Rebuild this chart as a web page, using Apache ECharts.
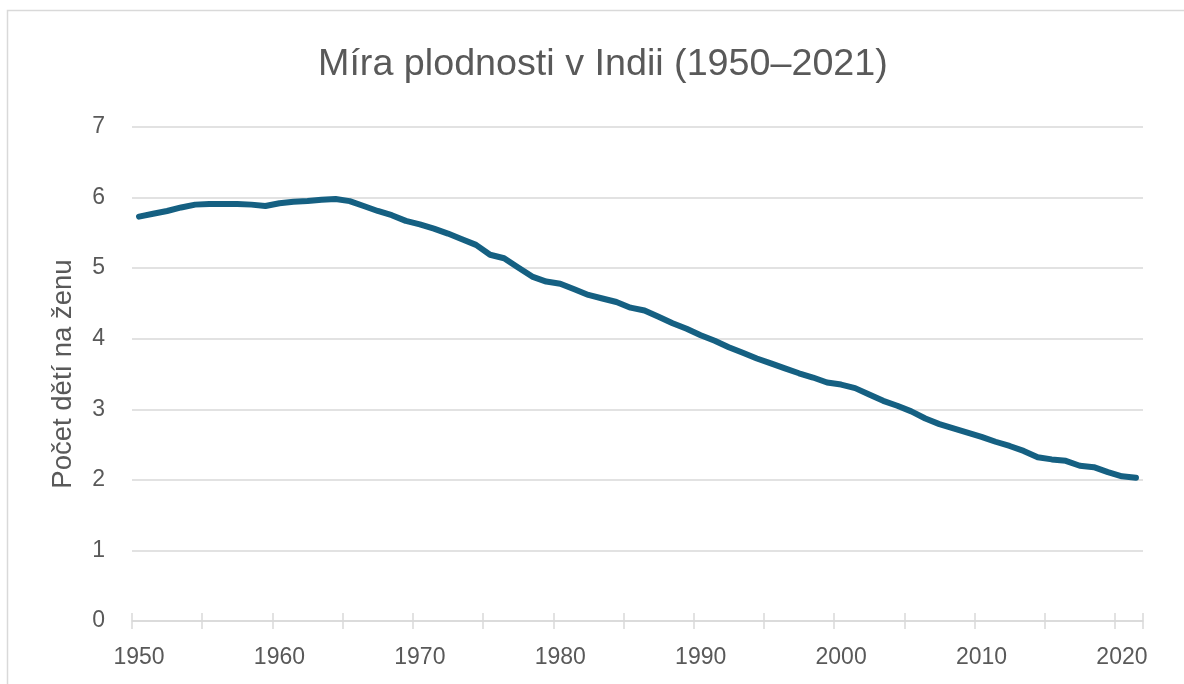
<!DOCTYPE html>
<html>
<head>
<meta charset="utf-8">
<script src="https://cdn.jsdelivr.net/npm/echarts@6/dist/echarts.min.js"></script>
<style>
html,body{margin:0;padding:0;background:#fff;}
#chart{width:1184px;height:684px;}
</style>
</head>
<body>
<div id="chart"></div>
<script>
const titleText = 'Míra plodnosti v Indii (1950–2021)';
const yAxisTitle = 'Počet dětí na ženu';
const years = [];
for (let y = 1950; y <= 2021; y++) years.push(String(y));
const fertility = [
  5.73, 5.77, 5.81, 5.86, 5.90, 5.91, 5.91, 5.91, 5.90, 5.88,
  5.92, 5.94, 5.95, 5.97, 5.98, 5.95, 5.88, 5.81, 5.75, 5.67,
  5.62, 5.56, 5.49, 5.41, 5.33, 5.19, 5.14, 5.01, 4.88, 4.81,
  4.78, 4.70, 4.62, 4.57, 4.52, 4.44, 4.40, 4.31, 4.22, 4.14,
  4.05, 3.97, 3.88, 3.80, 3.72, 3.65, 3.58, 3.51, 3.45, 3.38,
  3.35, 3.30, 3.21, 3.12, 3.05, 2.97, 2.87, 2.79, 2.73, 2.67,
  2.61, 2.54, 2.48, 2.41, 2.32, 2.29, 2.27, 2.20, 2.18, 2.11,
  2.05, 2.03
];
const yMin = 0, yMax = 7, yStep = 1;

const font = '"Liberation Sans", Arial, sans-serif';
const tickEvery5 = function (idx) { return idx % 5 === 0 && idx < years.length; };
const chart = echarts.init(document.getElementById('chart'), null, {renderer: 'canvas'});
chart.setOption({
  animation: false,
  backgroundColor: '#ffffff',
  graphic: [{
    type: 'rect', silent: true,
    shape: {x: 7.5, y: 10.5, width: 1200, height: 700},
    style: {fill: 'none', stroke: '#d9d9d9', lineWidth: 1.5}
  }],
  title: {
    text: titleText, left: 313, top: 41,
    textStyle: {fontFamily: font, fontSize: 37.7, fontWeight: 'normal', color: '#595959'}
  },
  grid: {left: 132, right: 41, top: 127, bottom: 63, containLabel: false},
  xAxis: [{
    type: 'category', data: years, boundaryGap: true, position: 'bottom',
    axisLine: {show: true, lineStyle: {color: '#d9d9d9', width: 1.5}},
    axisTick: {show: true, interval: tickEvery5, length: 8, lineStyle: {color: '#d9d9d9', width: 1.5}},
    axisLabel: {interval: 9, margin: 25, color: '#595959', fontFamily: font, fontSize: 23},
    splitLine: {show: false}
  }, {
    type: 'category', data: years, boundaryGap: true, position: 'bottom',
    axisLine: {show: false},
    axisTick: {show: true, inside: true, interval: tickEvery5, length: 8, lineStyle: {color: '#d9d9d9', width: 1.5}},
    axisLabel: {show: false},
    splitLine: {show: false}
  }],
  yAxis: {
    type: 'value', min: yMin, max: yMax, interval: yStep,
    name: yAxisTitle, nameLocation: 'middle', nameRotate: 90, nameGap: 55,
    nameTextStyle: {fontFamily: font, fontSize: 27.5, color: '#595959'},
    axisLine: {show: false}, axisTick: {show: false},
    axisLabel: {margin: 27, color: '#595959', fontFamily: font, fontSize: 23},
    splitLine: {lineStyle: {color: '#d9d9d9', width: 1.5}}
  },
  series: [{
    type: 'line', data: fertility, xAxisIndex: 0,
    showSymbol: false, symbol: 'none', smooth: false,
    lineStyle: {color: '#156082', width: 6, cap: 'round', join: 'round'},
    itemStyle: {color: '#156082'}
  }]
});
</script>
</body>
</html>
